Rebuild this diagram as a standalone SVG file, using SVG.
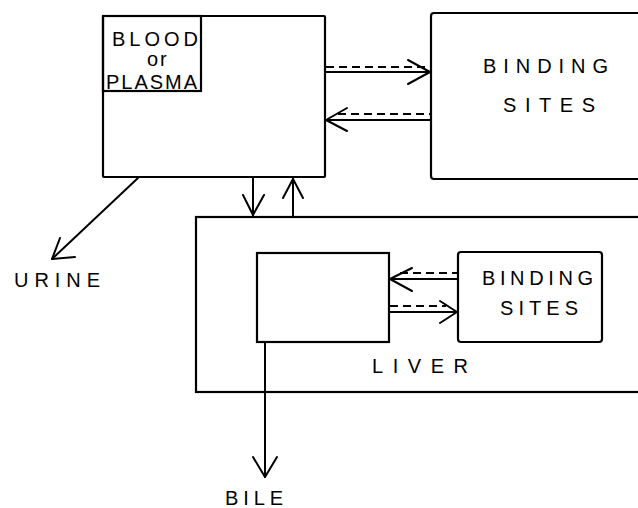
<svg xmlns="http://www.w3.org/2000/svg" width="638" height="508" viewBox="0 0 638 508">
<style>
.box{fill:none;stroke:#000;stroke-width:2.2}
.ln{fill:none;stroke:#000;stroke-width:2;stroke-linecap:round;stroke-linejoin:round}
.dash{fill:none;stroke:#000;stroke-width:1.8;stroke-dasharray:8 5}
text{font-family:"Liberation Sans",Arial,sans-serif;font-size:20px;fill:#000}
</style>
<rect width="638" height="508" fill="#fff"/>
<g id="blood">
<rect class="box" x="103" y="16" width="222" height="161" rx="1"/>
<rect class="box" x="103" y="16" width="98" height="75"/>
<text x="112" y="46" font-size="19.5" textLength="86" lengthAdjust="spacing">BLOOD</text>
<text x="147" y="66" font-size="15" letter-spacing="2">or</text>
<text x="106" y="89" textLength="91" lengthAdjust="spacing">PLASMA</text>
</g>
<g id="binding1">
<rect class="box" x="431" y="13" width="230" height="166" rx="3"/>
<text x="483" y="73" textLength="125" lengthAdjust="spacing">BINDING</text>
<text x="503" y="112" textLength="92" lengthAdjust="spacing">SITES</text>
</g>
<g id="liver">
<rect class="box" x="196" y="217" width="470" height="175"/>
<text x="372" y="373" font-size="18.5" textLength="96" lengthAdjust="spacing">LIVER</text>
</g>
<g id="liver-inner">
<rect class="box" x="257" y="253" width="132" height="89"/>
</g>
<g id="binding2">
<rect class="box" x="458" y="252" width="144" height="90" rx="3"/>
<text x="482" y="285" font-size="19.5" textLength="111" lengthAdjust="spacing">BINDING</text>
<text x="500" y="315" font-size="19.5" textLength="78" lengthAdjust="spacing">SITES</text>
</g>
<g id="urine">
<text x="14" y="287" textLength="86" lengthAdjust="spacing">URINE</text>
</g>
<g id="bile">
<text x="225" y="505" font-size="18" textLength="58" lengthAdjust="spacing">BILE</text>
</g>
<g id="connectors">
<line class="ln" x1="325" y1="72" x2="430" y2="72"/>
<polyline class="ln" points="408,60 430,72 408,84"/>
<line class="dash" x1="326" y1="67" x2="426" y2="67"/>
<line class="ln" x1="430" y1="120" x2="326" y2="120"/>
<polyline class="ln" points="347,108 326,120 347,131"/>
<line class="dash" x1="338" y1="114" x2="430" y2="114"/>
<line class="ln" x1="253" y1="177" x2="253" y2="216"/>
<polyline class="ln" points="243,195 253,215 264,195"/>
<line class="ln" x1="293" y1="216" x2="293" y2="179"/>
<polyline class="ln" points="283,198 293,179 303,198"/>
<line class="ln" x1="138" y1="178" x2="52" y2="259"/>
<polyline class="ln" points="60,238 52,259 75,257"/>
<line class="ln" x1="458" y1="279" x2="390" y2="279"/>
<polyline class="ln" points="412,268 390,279 412,291"/>
<line class="dash" x1="400" y1="273" x2="457" y2="273"/>
<line class="ln" x1="390" y1="312" x2="457" y2="312"/>
<polyline class="ln" points="440,301 457,312 440,323"/>
<line class="dash" x1="390" y1="306" x2="446" y2="306"/>
<line class="ln" x1="265" y1="342" x2="265" y2="477"/>
<polyline class="ln" points="253,457 265,477 277,457"/>
</g>
</svg>
